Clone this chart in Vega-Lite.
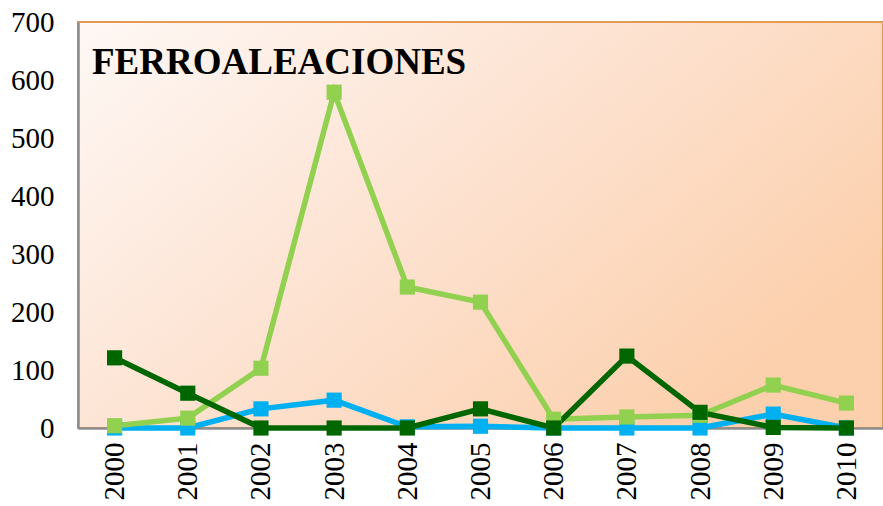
{
  "$schema": "https://vega.github.io/schema/vega-lite/v6.json",
  "width": 805,
  "height": 406,
  "autosize": {"type": "none"},
  "padding": {"left": 78, "top": 22, "right": 0, "bottom": 78},
  "background": "white",
  "title": {
    "text": "FERROALEACIONES",
    "anchor": "start",
    "frame": "group",
    "orient": "top",
    "font": "Liberation Serif",
    "fontSize": 37,
    "fontWeight": "bold",
    "color": "black",
    "baseline": "alphabetic",
    "dx": 14,
    "offset": -103
  },
  "config": {
    "view": {
      "fill": {
        "gradient": "linear",
        "x1": 0, "y1": 0, "x2": 1, "y2": 0.6,
        "stops": [
          {"offset": 0, "color": "#FEF8F5"},
          {"offset": 0.5, "color": "#FDE3D2"},
          {"offset": 1, "color": "#FCD0AD"}
        ]
      },
      "stroke": "#E39A55",
      "strokeWidth": 2
    },
    "axis": {
      "labelFont": "Liberation Serif",
      "labelFontSize": 29,
      "labelColor": "black",
      "grid": false,
      "ticks": false,
      "title": null,
      "domainColor": "#8C8C8C",
      "domainWidth": 2.5
    }
  },
  "data": {
    "values": [
      {"year": "2000", "serie": "Serie 1", "value": 0},
      {"year": "2001", "serie": "Serie 1", "value": 0},
      {"year": "2002", "serie": "Serie 1", "value": 33},
      {"year": "2003", "serie": "Serie 1", "value": 48},
      {"year": "2004", "serie": "Serie 1", "value": 2},
      {"year": "2005", "serie": "Serie 1", "value": 3},
      {"year": "2006", "serie": "Serie 1", "value": 0},
      {"year": "2007", "serie": "Serie 1", "value": 0},
      {"year": "2008", "serie": "Serie 1", "value": 0},
      {"year": "2009", "serie": "Serie 1", "value": 24},
      {"year": "2010", "serie": "Serie 1", "value": 0},
      {"year": "2000", "serie": "Serie 2", "value": 4},
      {"year": "2001", "serie": "Serie 2", "value": 17},
      {"year": "2002", "serie": "Serie 2", "value": 103},
      {"year": "2003", "serie": "Serie 2", "value": 579},
      {"year": "2004", "serie": "Serie 2", "value": 243},
      {"year": "2005", "serie": "Serie 2", "value": 217},
      {"year": "2006", "serie": "Serie 2", "value": 15},
      {"year": "2007", "serie": "Serie 2", "value": 19},
      {"year": "2008", "serie": "Serie 2", "value": 22},
      {"year": "2009", "serie": "Serie 2", "value": 74},
      {"year": "2010", "serie": "Serie 2", "value": 43},
      {"year": "2000", "serie": "Serie 3", "value": 121},
      {"year": "2001", "serie": "Serie 3", "value": 60},
      {"year": "2002", "serie": "Serie 3", "value": 0},
      {"year": "2003", "serie": "Serie 3", "value": 0},
      {"year": "2004", "serie": "Serie 3", "value": 0},
      {"year": "2005", "serie": "Serie 3", "value": 33},
      {"year": "2006", "serie": "Serie 3", "value": 0},
      {"year": "2007", "serie": "Serie 3", "value": 124},
      {"year": "2008", "serie": "Serie 3", "value": 27},
      {"year": "2009", "serie": "Serie 3", "value": 1},
      {"year": "2010", "serie": "Serie 3", "value": 0}
    ]
  },
  "mark": {
    "type": "line",
    "strokeWidth": 5.5,
    "point": {"shape": "square", "size": 230, "filled": true, "opacity": 1}
  },
  "encoding": {
    "x": {
      "field": "year",
      "type": "ordinal",
      "scale": {"type": "point", "padding": 0.5},
      "axis": {"labelAngle": -90, "labelPadding": 14, "domain": true}
    },
    "y": {
      "field": "value",
      "type": "quantitative",
      "scale": {"domain": [0, 700], "nice": false},
      "axis": {"values": [0, 100, 200, 300, 400, 500, 600, 700], "labelPadding": 24}
    },
    "color": {
      "field": "serie",
      "type": "nominal",
      "scale": {"domain": ["Serie 1", "Serie 2", "Serie 3"], "range": ["#00B0F0", "#92D050", "#006600"]},
      "legend": null
    }
  }
}
